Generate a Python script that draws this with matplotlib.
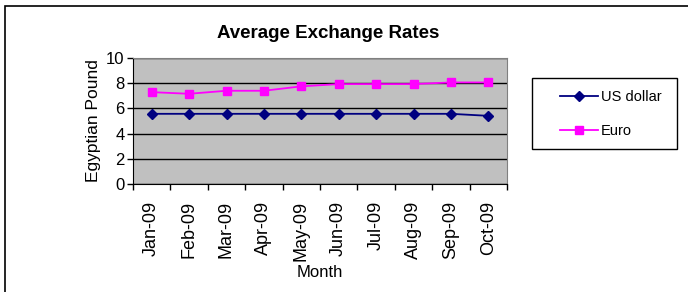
import numpy as np
import matplotlib
matplotlib.use("Agg")
from matplotlib import pyplot as plt
from matplotlib.patches import Rectangle

plt.rcParams["font.family"] = ["Liberation Sans", "DejaVu Sans"]

# data
months = ["Jan-09", "Feb-09", "Mar-09", "Apr-09", "May-09",
          "Jun-09", "Jul-09", "Aug-09", "Sep-09", "Oct-09"]
usd = [5.57, 5.57, 5.57, 5.57, 5.57, 5.57, 5.57, 5.57, 5.57, 5.41]
euro = [7.29, 7.16, 7.40, 7.40, 7.75, 7.93, 7.93, 7.93, 8.06, 8.06]

W, H = 688, 292
fig = plt.figure(figsize=(W / 100, H / 100), dpi=100)
# plot area in pixels: x 133..507, y 58..184
ax = fig.add_axes([133 / W, 1 - 184 / H, (507 - 133) / W, (184 - 58) / H])
ax.set_facecolor("#C0C0C0")

x = np.arange(len(months))
ax.plot(x, usd, color="#000080", marker="D", markersize=5.5, lw=1.3,
        label="US dollar", clip_on=False, zorder=3)
ax.plot(x, euro, color="#FF00FF", marker="s", markersize=6.3, lw=1.3,
        label="Euro", clip_on=False, zorder=3)

ax.set_xlim(-0.5, len(months) - 0.5)
ax.set_ylim(0, 10)
ax.set_yticks(range(0, 11, 2))
ax.yaxis.grid(True, color="black", lw=1)
ax.set_axisbelow(True)

# category ticks on boundaries, labels in the middle
ax.set_xticks(np.arange(-0.5, len(months), 1.0))
ax.set_xticklabels([])
ax.set_xticks(x, minor=True)
ax.set_xticklabels(months, minor=True, rotation=90, fontsize=13)
ax.tick_params(axis="x", which="minor", length=0, pad=12)
ax.tick_params(axis="x", which="major", length=4, width=1, direction="out")
ax.tick_params(axis="y", length=4, width=1, labelsize=12, pad=2)

for s in ["top", "right"]:
    ax.spines[s].set_color("#808080")
for s in ["left", "bottom"]:
    ax.spines[s].set_color("black")

ax.set_ylabel("Egyptian Pound", fontsize=12.5, labelpad=4)
ax.set_xlabel("Month", fontsize=12, labelpad=3)
fig.text(328 / W, 1 - 33 / H, "Average Exchange Rates", ha="center",
         va="center", fontsize=13.5, fontweight="bold")

# legend entries without frame, frame drawn as its own box
leg = fig.legend(loc="upper left", bbox_to_anchor=(560 / W, 1 - 90 / H),
                 frameon=False, fontsize=10.5, handlelength=2.6,
                 labelspacing=1.35, borderpad=0, handletextpad=0.2,
                 borderaxespad=0)
fig.patches.append(Rectangle((532 / W, 1 - 149 / H), 145 / W, 71 / H,
                             transform=fig.transFigure, fill=False,
                             edgecolor="black", lw=1))

# outer chart border
fig.patches.append(Rectangle((5 / W, -0.1), 2, 1 - 5.5 / H + 0.1,
                             transform=fig.transFigure, fill=False,
                             edgecolor="black", lw=1.2))

fig.savefig("out.png", dpi=100)
